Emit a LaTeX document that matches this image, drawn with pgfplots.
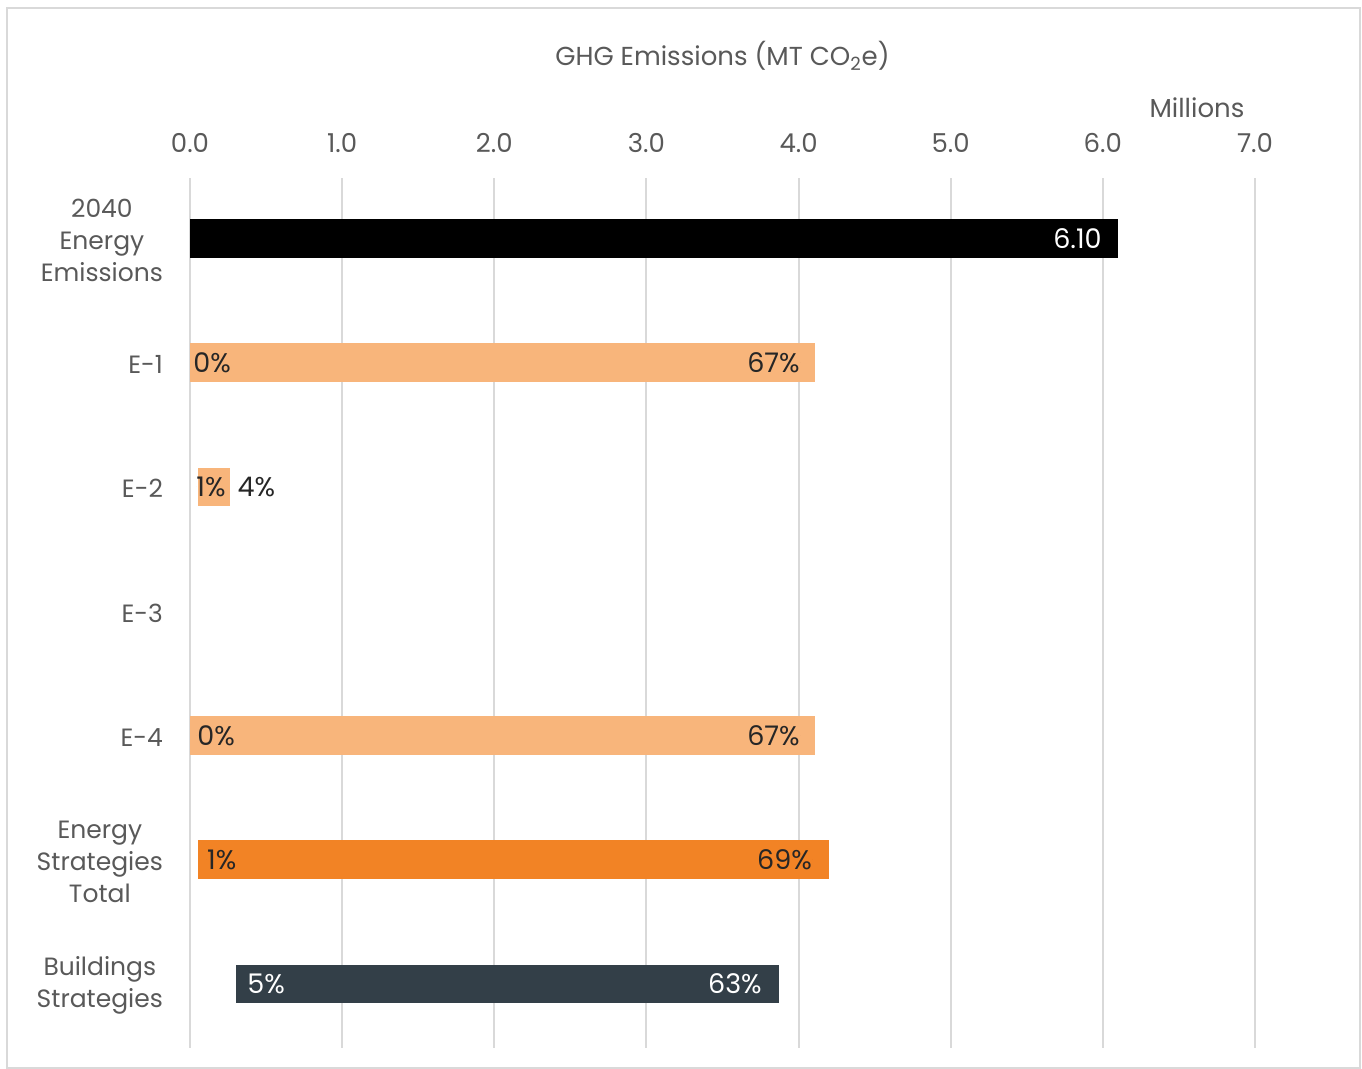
\documentclass[border=0pt]{standalone}
\usepackage{fontspec}
\setmainfont{Poppins}
\usepackage{pgfplots}
\pgfplotsset{compat=1.18}
\definecolor{txt}{HTML}{595959}
\definecolor{gridc}{HTML}{D9D9D9}
\definecolor{lorange}{HTML}{F8B57B}
\definecolor{dorange}{HTML}{F28325}
\definecolor{slate}{HTML}{333F48}
\definecolor{lab}{HTML}{262626}
\begin{document}
\begin{tikzpicture}
\path (0,0) rectangle (681pt,534.5pt);
\draw[color=gridc, line width=1pt] (3.5pt,0.5pt) rectangle (680pt,530.5pt);
\begin{axis}[
  at={(95pt,10.5pt)}, anchor=south west, scale only axis,
  width=532.5pt, height=435pt,
  xmin=0, xmax=7, ymin=-0.5, ymax=6.5, y dir=reverse,
  xtick={0,1,...,7}, xticklabel pos=upper,
  xticklabel={\pgfmathprintnumber[fixed,fixed zerofill,precision=1,assume math mode=true]{\tick}},
  xticklabel style={font=\fontsize{13}{15}\selectfont, text=txt, anchor=base, yshift=13pt},
  xmajorgrids, grid style={color=gridc, line width=1pt},
  axis line style={draw=none}, major tick length=0pt,
  ytick={0,...,6},
  yticklabels={{2040\\Energy\\Emissions},E-1,E-2,E-3,E-4,{Energy\\Strategies\\Total},{Buildings\\Strategies}},
  yticklabel style={font=\fontsize{12.5}{16}\selectfont, text=txt, align=center, xshift=-10pt},
  xlabel={GHG Emissions (MT CO\textsubscript{2}e)},
  xlabel style={at={(axis description cs:0.5,1)}, anchor=base, yshift=56.5pt, font=\fontsize{13}{15}\selectfont, text=txt},
  clip=false,
]
\addplot[fill=black, draw=none] coordinates {(0,-0.172) (6.10,-0.172) (6.10,0.142) (0,0.142)} -- cycle;
\addplot[fill=lorange, draw=none] coordinates {(0,0.83) (4.11,0.83) (4.11,1.14) (0,1.14)} -- cycle;
\addplot[fill=lorange, draw=none] coordinates {(0.05,1.83) (0.26,1.83) (0.26,2.14) (0.05,2.14)} -- cycle;
\addplot[fill=lorange, draw=none] coordinates {(0,3.83) (4.11,3.83) (4.11,4.14) (0,4.14)} -- cycle;
\addplot[fill=dorange, draw=none] coordinates {(0.05,4.83) (4.20,4.83) (4.20,5.14) (0.05,5.14)} -- cycle;
\addplot[fill=slate, draw=none] coordinates {(0.30,5.83) (3.87,5.83) (3.87,6.14) (0.30,6.14)} -- cycle;
% labels
\pgfplotsset{barlab/.style={only marks, mark=*, mark size=0pt, mark options={draw=none, fill=none},
  nodes near coords, point meta=explicit symbolic}}
\addplot[barlab, every node near coord/.append style={anchor=west, inner xsep=0pt, text=lab, font=\fontsize{13.5}{15}\selectfont}]
  coordinates {(0.02,0.985) [0\%] (0.04,1.985) [1\%] (0.046,3.985) [0\%] (0.11,4.985) [1\%] (0.31,1.985) [4\%]};
\addplot[barlab, every node near coord/.append style={anchor=east, inner xsep=0pt, text=lab, font=\fontsize{13.5}{15}\selectfont}]
  coordinates {(4.01,0.985) [67\%] (4.01,3.985) [67\%] (4.09,4.985) [69\%]};
\addplot[barlab, every node near coord/.append style={anchor=east, inner xsep=0pt, text=white, font=\fontsize{13.5}{15}\selectfont}]
  coordinates {(5.995,-0.015) [6.10] (3.76,5.985) [63\%]};
\addplot[barlab, every node near coord/.append style={anchor=west, inner xsep=0pt, text=white, font=\fontsize{13.5}{15}\selectfont}]
  coordinates {(0.375,5.985) [5\%]};
\node[anchor=base, font=\fontsize{13}{15}\selectfont, text=txt] at (axis description cs:0.9455,1) [yshift=30.5pt] {Millions};
\end{axis}
\end{tikzpicture}
\end{document}
